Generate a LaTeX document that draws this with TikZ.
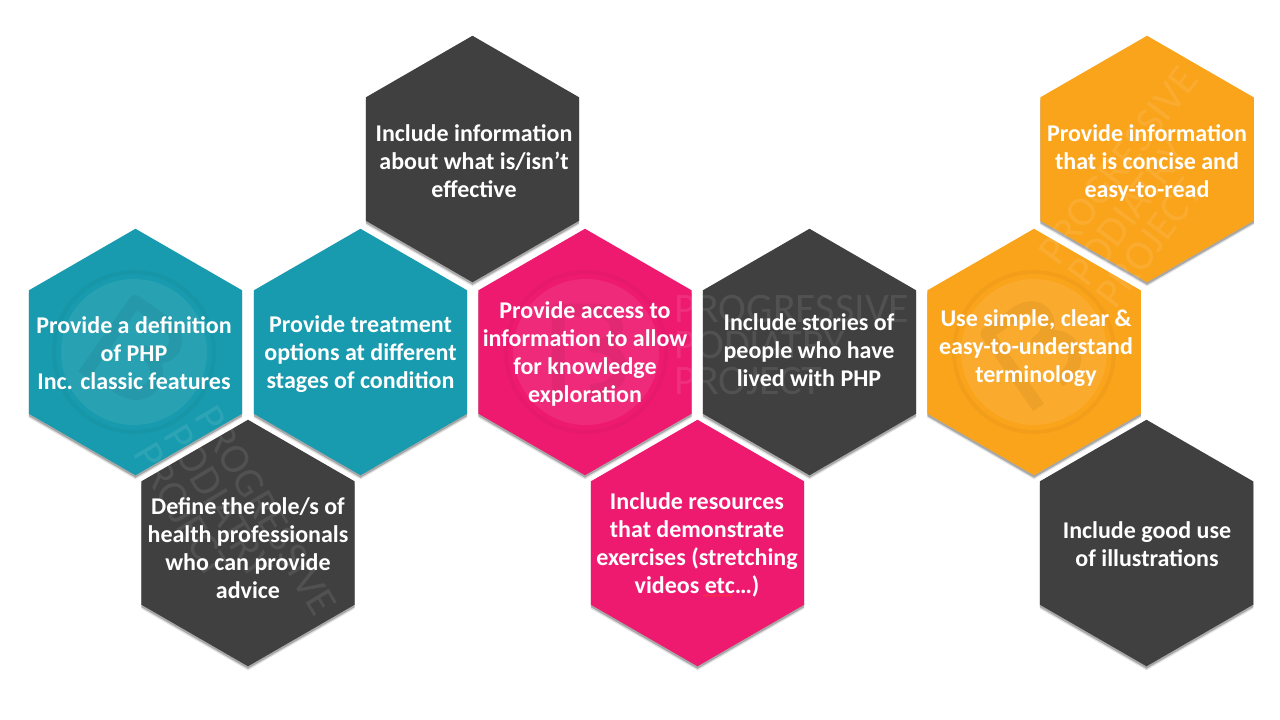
\documentclass[tikz,border=0pt]{standalone}
\usepackage{fontspec}
\setmainfont{Carlito}
\usetikzlibrary{shapes.geometric,shadows,decorations.pathmorphing}
\definecolor{tealc}{HTML}{189BAE}
\definecolor{darkc}{HTML}{404040}
\definecolor{pinkc}{HTML}{EE1A70}
\definecolor{orangec}{HTML}{FAA41C}
\newcommand{\wmlogo}[3]{%
  \fill[white,opacity=.07] (#1,#2) circle (73);
  \draw[black,opacity=.03,line width=4pt] (#1,#2) circle (80);
  \begin{scope}[shift={(#1,#2)},rotate=#3]
    \draw[black,opacity=.05,line width=13pt,line join=round] (-28,48) -- (-28,-42) -- (8,-42) .. controls (38,-42) and (38,-6) .. (8,-6) .. controls (44,-6) and (44,40) .. (4,38);
  \end{scope}}
\tikzset{
  hexbox/.style={shape=regular polygon,regular polygon sides=6,shape border rotate=30,minimum size=246.5pt,inner sep=0pt,outer sep=0pt,fill=#1,
    drop shadow={shadow xshift=0pt,shadow yshift=-4pt,fill=black,opacity=.12},
    drop shadow={shadow xshift=0pt,shadow yshift=-2.5pt,fill=black,opacity=.25}},
  hextext/.style={text=white,font=\fontsize{24}{28}\selectfont\bfseries,align=center,inner sep=0pt},
  wmtext/.style={text=white,opacity=.09,font=\fontsize{42}{36}\selectfont,align=left,inner sep=0pt}
}
\begin{document}
\begin{tikzpicture}[x=1pt,y=-1pt]
  \useasboundingbox (0,0) rectangle (1280,720);
  \foreach \x/\y/\n/\c in {135.5/352/defn/tealc,360.5/352/treat/tealc,472.5/159/effect/darkc,585/352/access/pinkc,
    809.5/352/stories/darkc,1034/352/simple/orangec,1147/159/concise/orangec,248/543/roles/darkc,697.5/543/res/pinkc,1146.5/543/illus/darkc}
    {\node[hexbox=\c] (\n) at (\x,\y) {};}
  \wmlogo{134}{352}{-35}
  \wmlogo{586}{352}{0}
  \wmlogo{1034}{352}{35}
  \node[wmtext,rotate=-59] (wmteal) at (235,529) {PROGRESSIVE\\PODIATRY\\PROJECT};
  \node[wmtext] (wmpink) at (792,345) {PROGRESSIVE\\PODIATRY\\PROJECT};
  \node[wmtext,rotate=53] (wmorange) at (1147,187) {PROGRESSIVE\\PODIATRY\\PROJECT};
  \foreach \x/\y/\n/\l in {134/353/tdefn/{Provide a definition\\of PHP\\Inc. classic features},
    360.5/354.5/ttreat/{Provide treatment\\options at different\\stages of condition},
    474/161/teffect/{Include information\\about what is/isn’t\\effective},
    585/354/taccess/{Provide access to\\information to allow\\for knowledge\\exploration},
    809/350/tstories/{Include stories of\\people who have\\lived with PHP},
    1036/348/tsimple/{Use simple, clear \&\\easy-to-understand\\terminology},
    1147/163/tconcise/{Provide information\\that is concise and\\easy-to-read},
    248/548/troles/{Define the role/s of\\health professionals\\who can provide\\advice},
    697/545/tres/{Include resources\\that demonstrate\\exercises (stretching\\videos etc…)},
    1147/544/tillus/{Include good use\\of illustrations}}
    {\node[hextext] (\n) at (\x,\y) {\l};}
  \draw[red!80!white,line width=.7pt,decorate,decoration={snake,amplitude=.8pt,segment length=4pt}] (703,595.5) -- (733,595.5);
\end{tikzpicture}
\end{document}
